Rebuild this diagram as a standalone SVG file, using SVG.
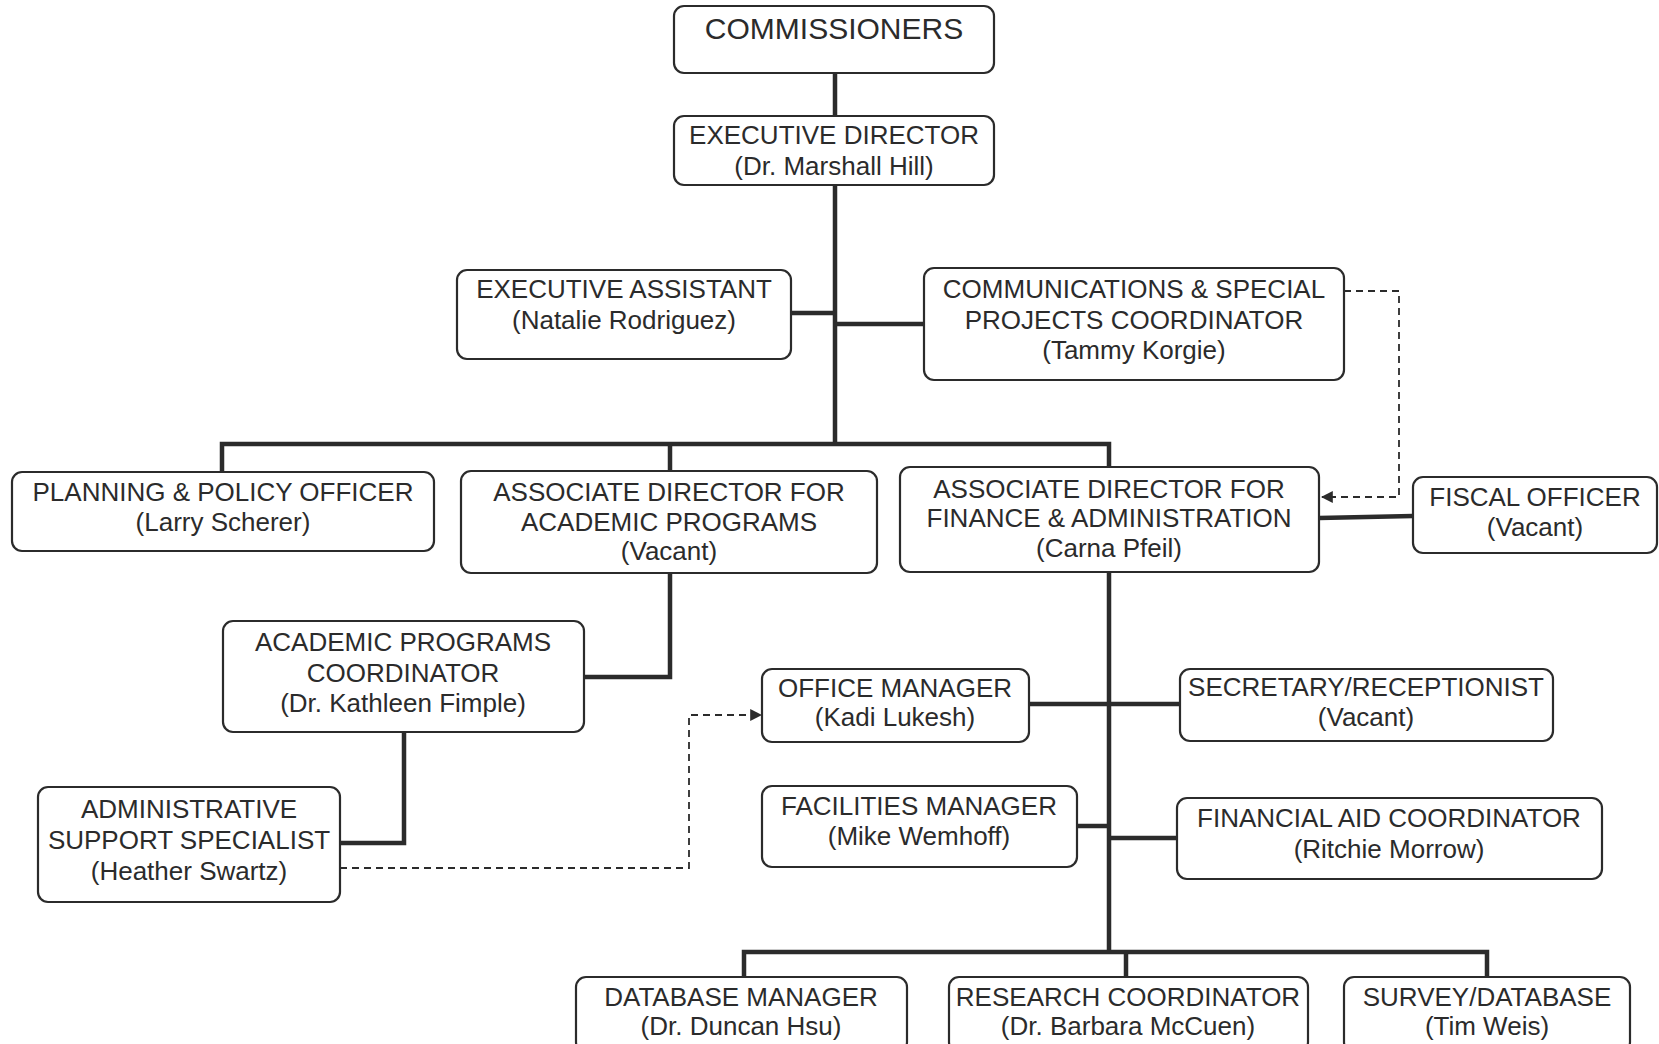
<svg xmlns="http://www.w3.org/2000/svg" width="1659" height="1044" viewBox="0 0 1659 1044">
<style>
.box{fill:#ffffff;stroke:#2b2b2b;stroke-width:2.2}
.t{font-family:"Liberation Sans",Arial,sans-serif;font-size:26px;fill:#2b2b2b;text-anchor:middle}
.big{font-size:30px}
.c{fill:none;stroke:#2b2b2b;stroke-width:4.5;stroke-linejoin:miter}
.d{fill:none;stroke:#2b2b2b;stroke-width:1.8;stroke-dasharray:7 5}
</style>
<defs>
<marker id="arr" viewBox="0 0 10 10" refX="9" refY="5" markerWidth="6" markerHeight="6" orient="auto" markerUnits="userSpaceOnUse">
<path d="M0,0 L10,5 L0,10 z" fill="#2b2b2b"/>
</marker>
<marker id="arrB" viewBox="0 0 10 10" refX="9" refY="5" markerWidth="12" markerHeight="12" orient="auto" markerUnits="userSpaceOnUse">
<path d="M0,0 L10,5 L0,10 z" fill="#2b2b2b"/>
</marker>
</defs>
<rect width="1659" height="1044" fill="#ffffff"/>
<g id="connectors">
<path class="c" d="M835 73 V444"/>
<path class="c" d="M791 313 H835"/>
<path class="c" d="M835 324 H924"/>
<path class="c" d="M222 472 V444 H1109 V467"/>
<path class="c" d="M670 444 V471"/>
<path class="c" d="M1319 518 L1413 516"/>
<path class="c" d="M670 573 V677 H584"/>
<path class="c" d="M404 732 V843 H340"/>
<path class="c" d="M1109 572 V952"/>
<path class="c" d="M1029 704 H1180"/>
<path class="c" d="M1077 826 H1109"/>
<path class="c" d="M1109 838 H1177"/>
<path class="c" d="M744 977 V952 H1487 V977"/>
<path class="c" d="M1126 952 V977"/>
<path class="d" d="M1344 291 H1399 V497 H1322" marker-end="url(#arrB)"/>
<path class="d" d="M340 868 H689 V715 H761" marker-end="url(#arrB)"/>
</g>
<g id="commissioners"><rect class="box" x="674" y="6" width="320" height="67" rx="10"/><text class="t big" x="834" y="39">COMMISSIONERS</text></g>
<g id="executive-director"><rect class="box" x="674" y="116" width="320" height="69" rx="10"/><text class="t" x="834" y="144">EXECUTIVE DIRECTOR</text><text class="t" x="834" y="175">(Dr. Marshall Hill)</text></g>
<g id="executive-assistant"><rect class="box" x="457" y="270" width="334" height="89" rx="10"/><text class="t" x="624" y="298">EXECUTIVE ASSISTANT</text><text class="t" x="624" y="329">(Natalie Rodriguez)</text></g>
<g id="communications"><rect class="box" x="924" y="268" width="420" height="112" rx="10"/><text class="t" x="1134" y="298">COMMUNICATIONS &amp; SPECIAL</text><text class="t" x="1134" y="329">PROJECTS COORDINATOR</text><text class="t" x="1134" y="359">(Tammy Korgie)</text></g>
<g id="planning-policy"><rect class="box" x="12" y="472" width="422" height="79" rx="10"/><text class="t" x="223" y="501">PLANNING &amp; POLICY OFFICER</text><text class="t" x="223" y="531">(Larry Scherer)</text></g>
<g id="assoc-academic"><rect class="box" x="461" y="471" width="416" height="102" rx="10"/><text class="t" x="669" y="501">ASSOCIATE DIRECTOR FOR</text><text class="t" x="669" y="531">ACADEMIC PROGRAMS</text><text class="t" x="669" y="560">(Vacant)</text></g>
<g id="assoc-finance"><rect class="box" x="900" y="467" width="419" height="105" rx="10"/><text class="t" x="1109" y="498">ASSOCIATE DIRECTOR FOR</text><text class="t" x="1109" y="527">FINANCE &amp; ADMINISTRATION</text><text class="t" x="1109" y="557">(Carna Pfeil)</text></g>
<g id="fiscal-officer"><rect class="box" x="1413" y="477" width="244" height="76" rx="10"/><text class="t" x="1535" y="506">FISCAL OFFICER</text><text class="t" x="1535" y="536">(Vacant)</text></g>
<g id="academic-coordinator"><rect class="box" x="223" y="621" width="361" height="111" rx="10"/><text class="t" x="403" y="651">ACADEMIC PROGRAMS</text><text class="t" x="403" y="682">COORDINATOR</text><text class="t" x="403" y="712">(Dr. Kathleen Fimple)</text></g>
<g id="admin-support"><rect class="box" x="38" y="787" width="302" height="115" rx="10"/><text class="t" x="189" y="818">ADMINISTRATIVE</text><text class="t" x="189" y="849">SUPPORT SPECIALIST</text><text class="t" x="189" y="880">(Heather Swartz)</text></g>
<g id="office-manager"><rect class="box" x="762" y="669" width="267" height="73" rx="10"/><text class="t" x="895" y="697">OFFICE MANAGER</text><text class="t" x="895" y="726">(Kadi Lukesh)</text></g>
<g id="secretary"><rect class="box" x="1180" y="669" width="373" height="72" rx="10"/><text class="t" x="1366" y="696">SECRETARY/RECEPTIONIST</text><text class="t" x="1366" y="726">(Vacant)</text></g>
<g id="facilities-manager"><rect class="box" x="762" y="786" width="315" height="81" rx="10"/><text class="t" x="919" y="815">FACILITIES MANAGER</text><text class="t" x="919" y="845">(Mike Wemhoff)</text></g>
<g id="financial-aid"><rect class="box" x="1177" y="798" width="425" height="81" rx="10"/><text class="t" x="1389" y="827">FINANCIAL AID COORDINATOR</text><text class="t" x="1389" y="858">(Ritchie Morrow)</text></g>
<g id="database-manager"><rect class="box" x="576" y="977" width="331" height="75" rx="10"/><text class="t" x="741" y="1006">DATABASE MANAGER</text><text class="t" x="741" y="1035">(Dr. Duncan Hsu)</text></g>
<g id="research-coordinator"><rect class="box" x="949" y="977" width="359" height="75" rx="10"/><text class="t" x="1128" y="1006">RESEARCH COORDINATOR</text><text class="t" x="1128" y="1035">(Dr. Barbara McCuen)</text></g>
<g id="survey-database"><rect class="box" x="1344" y="977" width="286" height="75" rx="10"/><text class="t" x="1487" y="1006">SURVEY/DATABASE</text><text class="t" x="1487" y="1035">(Tim Weis)</text></g>
</svg>
